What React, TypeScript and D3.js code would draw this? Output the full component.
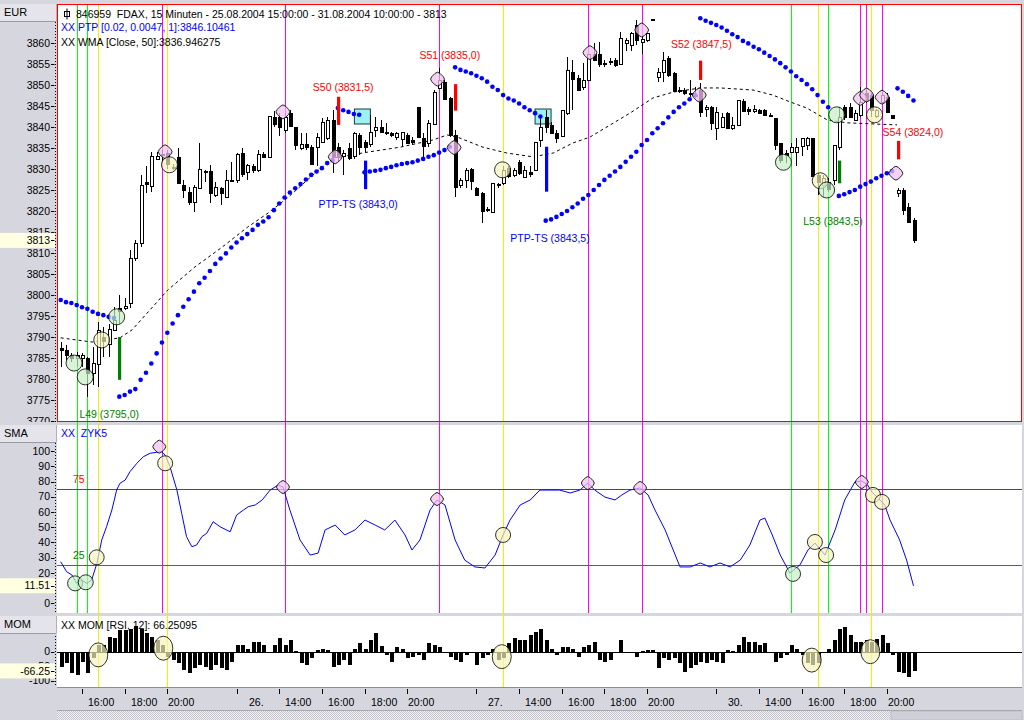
import React from "react";
import * as d3 from "d3";

// ---------- DATA ----------
// OHLC per 15-min bar: [open, high, low, close]
const ohlc: number[][] = [
  [3787.5, 3788.9, 3782.9, 3787.0], [3786.9, 3788.1, 3784.5, 3785.7], [3785.7, 3786.1, 3784.1, 3784.9], [3784.9, 3786.5, 3782.9, 3785.7],
  [3784.9, 3786.1, 3782.9, 3785.7], [3784.9, 3785.3, 3775.8, 3781.3], [3781.3, 3787.7, 3778.6, 3783.7], [3783.7, 3793.6, 3778.2, 3791.7],
  [3790.1, 3792.5, 3785.3, 3789.1], [3788.5, 3793.2, 3785.3, 3792.0], [3791.7, 3797.2, 3791.7, 3794.0], [3796.8, 3800.0, 3793.2, 3796.0],
  [3797.0, 3799.2, 3796.4, 3797.5], [3798.0, 3810.7, 3796.8, 3808.7], [3808.7, 3813.1, 3808.0, 3812.3], [3812.3, 3828.6, 3811.5, 3826.2],
  [3826.9, 3830.6, 3824.2, 3826.5], [3825.8, 3834.1, 3824.6, 3833.0], [3832.5, 3834.1, 3832.1, 3833.1], [3833.6, 3834.5, 3831.7, 3833.4],
  [3833.7, 3834.5, 3830.1, 3831.0], [3830.5, 3831.3, 3829.8, 3830.4], [3832.9, 3834.9, 3826.6, 3826.6], [3826.2, 3827.4, 3823.0, 3825.0],
  [3824.6, 3825.8, 3821.4, 3822.2], [3822.2, 3826.2, 3819.8, 3825.8], [3825.4, 3836.1, 3825.4, 3829.9], [3829.4, 3829.8, 3827.0, 3829.5],
  [3829.5, 3831.0, 3821.8, 3824.2], [3823.8, 3827.0, 3823.4, 3825.8], [3825.4, 3825.8, 3821.4, 3824.2], [3823.4, 3829.8, 3823.4, 3827.4],
  [3827.5, 3831.7, 3827.0, 3827.4], [3827.2, 3833.7, 3826.6, 3833.5], [3833.7, 3834.9, 3828.2, 3828.6], [3829.4, 3831.3, 3827.4, 3831.0],
  [3830.7, 3831.3, 3829.0, 3829.8], [3829.8, 3834.5, 3829.4, 3833.5], [3833.5, 3834.0, 3832.9, 3832.9], [3832.9, 3842.6, 3832.9, 3842.6],
  [3842.5, 3843.7, 3840.1, 3840.9], [3842.5, 3843.3, 3837.9, 3840.1], [3839.4, 3843.4, 3838.5, 3842.5], [3843.3, 3844.1, 3840.1, 3840.2],
  [3839.9, 3840.1, 3834.5, 3835.7], [3834.9, 3838.5, 3834.5, 3835.9], [3836.0, 3838.5, 3834.5, 3835.3], [3835.2, 3835.7, 3831.0, 3831.2],
  [3835.3, 3838.5, 3830.6, 3837.7], [3836.5, 3842.1, 3836.1, 3841.3], [3837.3, 3842.5, 3836.9, 3841.7], [3841.7, 3844.0, 3829.0, 3833.0],
  [3835.3, 3836.1, 3831.7, 3833.0], [3833.0, 3834.5, 3828.6, 3833.8], [3834.9, 3836.1, 3832.1, 3832.5], [3833.0, 3838.9, 3832.5, 3838.5],
  [3838.1, 3838.5, 3833.3, 3835.3], [3836.5, 3836.9, 3834.1, 3835.3], [3836.1, 3842.9, 3835.3, 3838.9], [3839.4, 3842.5, 3837.7, 3840.1],
  [3840.1, 3841.7, 3838.5, 3838.9], [3838.9, 3840.9, 3838.1, 3838.6], [3838.5, 3838.9, 3837.7, 3838.1], [3837.5, 3838.9, 3836.9, 3838.5],
  [3837.3, 3838.9, 3835.3, 3838.9], [3838.1, 3838.5, 3836.1, 3836.1], [3837.0, 3837.7, 3835.7, 3836.5], [3844.8, 3844.8, 3837.7, 3837.7],
  [3837.3, 3838.5, 3832.5, 3835.3], [3836.1, 3841.7, 3835.3, 3840.9], [3840.9, 3848.8, 3840.5, 3848.4], [3849.2, 3854.0, 3849.2, 3851.2],
  [3850.8, 3851.2, 3846.4, 3846.8], [3846.8, 3847.2, 3837.7, 3838.1], [3838.1, 3839.3, 3823.4, 3825.8], [3826.2, 3827.8, 3825.4, 3827.4],
  [3827.4, 3830.2, 3825.4, 3829.8], [3829.9, 3830.2, 3825.0, 3827.0], [3825.4, 3825.8, 3823.8, 3823.8], [3824.2, 3824.6, 3817.1, 3819.8],
  [3820.4, 3821.0, 3819.8, 3820.4], [3819.8, 3826.6, 3819.8, 3826.6], [3826.4, 3826.6, 3825.4, 3826.4], [3826.6, 3830.6, 3826.2, 3829.8],
  [3830.2, 3830.6, 3827.8, 3828.2], [3828.6, 3830.2, 3828.2, 3829.8], [3831.7, 3832.1, 3828.6, 3829.0], [3828.2, 3830.6, 3827.8, 3829.8],
  [3829.4, 3830.6, 3828.2, 3829.0], [3829.8, 3836.5, 3829.8, 3836.5], [3836.9, 3842.5, 3835.3, 3840.1], [3842.5, 3844.0, 3838.5, 3840.1],
  [3840.5, 3841.3, 3838.5, 3838.5], [3838.5, 3839.3, 3836.1, 3837.3], [3837.7, 3844.0, 3837.7, 3844.0], [3843.3, 3856.7, 3842.9, 3853.6],
  [3853.2, 3856.0, 3844.0, 3851.6], [3851.6, 3852.4, 3848.8, 3848.8], [3849.6, 3855.2, 3848.8, 3851.2], [3851.2, 3857.5, 3851.2, 3857.5],
  [3857.5, 3859.9, 3855.6, 3856.0], [3857.5, 3860.3, 3854.4, 3855.2], [3855.2, 3856.0, 3854.4, 3855.0], [3855.4, 3856.4, 3854.8, 3855.6],
  [3856.0, 3856.4, 3854.4, 3854.8], [3854.8, 3862.7, 3854.8, 3861.1], [3859.9, 3861.1, 3858.0, 3860.7], [3859.5, 3862.7, 3858.0, 3862.3],
  [3864.3, 3865.5, 3859.5, 3860.7], [3860.3, 3861.5, 3857.5, 3860.9], [3860.7, 3862.3, 3860.3, 3862.3], [3865.5, 3865.8, 3865.3, 3865.6],
  [3852.0, 3854.0, 3850.8, 3853.2], [3853.2, 3857.9, 3850.8, 3856.0], [3856.4, 3856.8, 3852.0, 3852.4], [3852.8, 3853.2, 3848.4, 3848.4],
  [3848.6, 3849.6, 3848.2, 3848.9], [3848.8, 3849.2, 3847.6, 3848.2], [3848.0, 3851.2, 3847.2, 3848.1], [3847.7, 3849.6, 3847.0, 3847.4],
  [3848.8, 3850.4, 3842.5, 3843.6], [3844.4, 3845.2, 3842.5, 3844.8], [3844.8, 3845.0, 3839.3, 3840.9], [3839.7, 3844.8, 3836.9, 3843.6],
  [3840.1, 3843.3, 3839.7, 3842.5], [3843.3, 3843.6, 3839.7, 3839.7], [3839.7, 3842.5, 3839.3, 3840.5], [3840.5, 3846.4, 3840.5, 3846.4],
  [3846.3, 3846.6, 3844.0, 3844.0], [3844.2, 3844.8, 3842.9, 3843.8], [3843.8, 3845.2, 3843.3, 3844.2], [3844.0, 3844.4, 3843.0, 3843.3],
  [3844.0, 3844.4, 3842.7, 3842.9], [3842.9, 3843.3, 3842.3, 3842.7], [3842.1, 3842.1, 3834.5, 3835.7], [3836.1, 3836.1, 3831.4, 3832.1],
  [3833.7, 3834.5, 3831.4, 3833.3], [3834.1, 3836.1, 3833.7, 3835.3], [3834.1, 3837.3, 3830.6, 3835.3], [3835.3, 3837.3, 3833.0, 3837.3],
  [3835.7, 3837.7, 3834.5, 3837.3], [3837.3, 3837.3, 3828.2, 3828.2], [3828.6, 3829.0, 3823.8, 3827.0], [3826.2, 3828.6, 3823.4, 3827.8],
  [3827.0, 3827.8, 3824.6, 3825.4], [3827.4, 3835.7, 3826.2, 3835.7], [3835.3, 3844.8, 3834.5, 3842.5], [3844.8, 3845.2, 3841.7, 3842.5],
  [3844.8, 3845.6, 3842.1, 3842.5], [3841.7, 3844.0, 3841.5, 3843.3], [3842.9, 3849.6, 3842.5, 3846.0], [3848.0, 3848.8, 3845.6, 3846.4],
  [3847.6, 3848.0, 3842.5, 3844.0], [3842.5, 3844.4, 3842.1, 3844.0], [3846.0, 3848.4, 3845.6, 3847.6], [3847.2, 3848.0, 3843.3, 3843.6],
  [3842.9, 3842.9, 3842.1, 3842.1], [3824.2, 3825.4, 3823.4, 3825.0], [3825.0, 3825.4, 3819.0, 3820.2], [3821.0, 3821.8, 3817.1, 3817.5],
  [3817.9, 3818.3, 3812.3, 3813.1],
];

// PTP trailing-stop dots (start bar number, values)
const ptpA = [3798.8, 3798.3, 3798.1, 3797.6, 3797.1, 3796.7, 3796.0, 3795.5, 3795.2, 3794.8, 3794.5];
const ptpB = [3775.8, 3776.2, 3777.0, 3777.6, 3779.8, 3781.5, 3783.7, 3786.1, 3788.7, 3791.0, 3793.2, 3795.2, 3797.2, 3799.0,
  3800.8, 3802.8, 3804.1, 3805.7, 3807.4, 3808.7, 3809.9, 3811.3, 3812.5, 3813.5, 3814.5, 3815.5, 3816.7, 3817.5, 3818.5,
  3820.2, 3821.8, 3823.2, 3824.4, 3825.4, 3826.4, 3827.5, 3828.6, 3829.4, 3830.2, 3831.4, 3832.1];
const ptpC = [3844.5, 3844.0, 3843.6, 3843.1, 3842.9];
const ptpD = [3829.2, 3829.4, 3829.6, 3829.8, 3830.2, 3830.5, 3830.9, 3831.2, 3831.4, 3831.6, 3832.0, 3832.4, 3832.9, 3833.3, 3833.9, 3834.5, 3835.3];
const ptpE = [3854.2, 3853.6, 3853.2, 3852.8, 3852.2, 3851.6, 3850.8, 3849.6, 3848.8, 3847.6, 3846.8, 3846.3, 3845.6, 3844.7, 3844.0, 3843.3, 3842.5];
const ptpF = [3817.7, 3818.0, 3818.6, 3819.3, 3820.0, 3820.9, 3821.8, 3822.9, 3823.8, 3825.0, 3826.2, 3827.4, 3828.4, 3829.4, 3830.5,
  3831.7, 3832.9, 3834.1, 3835.7, 3836.9, 3838.5, 3839.7, 3840.9, 3842.3, 3843.6, 3844.7, 3845.6, 3846.6, 3847.6];
const ptpG = [3865.9, 3865.3, 3864.8, 3864.3, 3863.7, 3862.9, 3862.1, 3861.4, 3860.5, 3859.9, 3859.1, 3858.5, 3857.7, 3856.9, 3856.1,
  3855.2, 3854.2, 3853.2, 3852.1, 3851.2, 3850.2, 3849.0, 3847.6, 3846.0, 3844.7];
const ptpH = [3823.6, 3824.0, 3824.5, 3825.0, 3825.8, 3826.4, 3827.0, 3827.8, 3828.4, 3829.0, 3829.5];
const ptpI = [3849.2, 3848.4, 3847.4, 3846.3];
const ptpStarts = [1, 12, 53, 58, 75, 92, 121, 147, 158];
const ptpSegs = [ptpA, ptpB, ptpC, ptpD, ptpE, ptpF, ptpG, ptpH, ptpI];

// WMA (Close, 50) read points
const wmaIdx = [1, 6.9, 12.1, 14.4, 21.1, 26.2, 31.3, 36.1, 39.9, 43.7, 48.7, 52.1, 58.5, 64.7, 70.8, 73.5, 75.4, 80.2, 84.7, 89.6,
  93.4, 97.1, 100.3, 107.8, 112.1, 115.9, 121, 124.7, 130.9, 134.6, 137.8, 141, 144.8, 148.5, 157.9];
const wmaVal = [3789.8, 3788.8, 3789.8, 3791.7, 3801.2, 3806.7, 3811.4, 3816.2, 3819.5, 3823.3, 3829.0, 3832.6, 3834.0, 3835.2, 3836.9,
  3838.1, 3837.6, 3835.2, 3833.8, 3832.9, 3833.8, 3836.2, 3837.6, 3843.3, 3846.9, 3848.3, 3849.3, 3849.3, 3848.8, 3847.6, 3846.0,
  3844.5, 3841.7, 3841.0, 3840.5];

// ZYK5 oscillator read points
const smaIdx = [1, 2.1, 3.1, 4.0, 4.9, 5.9, 6.8, 7.8, 8.7, 9.6, 10.6, 11.5, 12.1, 13.1, 14.0, 15.3, 16.5, 17.8, 19.0, 19.9,
  20.6, 21.5, 22.8, 23.7, 24.6, 25.6, 26.5, 27.5, 28.4, 29.6, 30.9, 32.8, 34.0, 35.3, 36.2, 37.5, 38.8, 40.3, 41.8, 42.7,
  44.0, 45.9, 47.8, 49.3, 50.6, 52.5, 54.3, 56.2, 58.1, 60.0, 61.8, 63.7, 65.6, 66.9, 68.4, 70.3, 71.6, 73.1, 75.0, 76.8,
  78.7, 80.6, 82.5, 84.0, 85.3, 87.2, 89.1, 90.9, 92.8, 94.6, 96.6, 98.4, 99.9, 101.2, 103.1, 105.0, 106.3, 107.8, 109.7, 111.2,
  112.5, 114.4, 116.3, 117.2, 119.1, 121.0, 122.8, 124.7, 126.6, 128.5, 130.3, 132.2, 133.1, 134.5, 136.0, 137.8, 139.7, 141.2, 142.5, 144.4,
  146.3, 148.1, 150.0, 151.3, 152.4, 153.2, 154.7, 155.6, 156.6, 158.4, 159.7, 161];
const smaVal = [27.3, 20.8, 18.6, 13.1, 15.3, 13.1, 15.3, 26.3, 41.6, 50.3, 61.3, 74.4, 78.8, 81.0, 86.5, 92.0, 96.3, 98.6, 99.2, 99.6,
  97.4, 89.8, 74.4, 59.1, 43.8, 37.2, 38.3, 43.8, 46.0, 53.6, 50.3, 47.0, 58.0, 61.3, 63.5, 64.6, 67.9, 74.4, 77.7, 76.4,
  61.3, 41.6, 31.7, 33.0, 48.2, 51.4, 44.9, 48.2, 54.7, 51.4, 48.2, 54.7, 44.9, 35.0, 41.6, 61.3, 67.9, 64.6, 41.6, 28.4,
  23.9, 23.2, 31.7, 44.9, 54.7, 64.6, 67.9, 74.4, 74.4, 74.4, 72.5, 74.4, 79.0, 74.4, 69.8, 67.9, 71.2, 74.4, 75.8, 71.2,
  61.3, 48.2, 31.7, 23.9, 23.9, 26.5, 23.9, 26.5, 23.9, 28.4, 38.3, 54.7, 56.0, 44.9, 31.7, 19.9, 25.2, 35.0, 39.6, 31.7,
  48.2, 67.9, 79.7, 80.4, 77.7, 73.1, 67.9, 64.6, 54.7, 41.6, 28.4, 11.5];

// MOM histogram, one value per bar
const momVals = [
  -52, -40, -75, -80, -34, -75, -23, 23, 23, 52, 46, 75, 75, 80, 88, 80, 63, 52, 40, 23,
  -17, -29, -40, -63, -75, -57, -46, -52, -63, -46, -57, -63, -34, 23, 23, 11, 34, 34, 23, -6,
  23, 46, 23, 40, 2, -40, -46, -20, 6, 11, 5, -52, -46, -29, -46, 11, 29, 11, 40, 63,
  20, -11, -34, 17, 11, -23, -17, -11, -29, 29, 23, 17, -6, -17, -29, -34, -11, -3, -46, -20,
  -11, 11, -29, -23, 30, 46, 40, 40, 57, 69, 80, 40, 10, -11, 17, 17, 11, -17, 17, 23,
  34, -29, -34, -29, -5, 40, -3, -6, -17, 2, 5, 6, -57, -23, -29, -23, -40, -69, -57, -46,
  -34, -40, -29, -34, -40, 6, 3, 23, 52, 34, 34, 23, 29, -3, -34, -23, -11, 23, 11, -10,
  -40, -45, -40, -6, 10, 40, 80, 86, 57, 34, 34, 40, 34, 45, 57, 29, -11, -69, -75, -86, -66,
];

// Axis ticks (labels fully covered by the current-value boxes are not drawn)
const priceTicks = [3770, 3775, 3780, 3785, 3790, 3795, 3800, 3805, 3810, 3815, 3820, 3825, 3830, 3835, 3840, 3845, 3850, 3855, 3860];
const smaTicks = [0, 20, 30, 40, 50, 60, 70, 80, 90, 100];
const momTicks = [0, -50, -100];
const timeTickIdx = [5, 13, 21, 34, 42, 50, 58, 66, 79, 87, 95, 103, 111, 124, 132, 140, 148, 156];
const timeTickLabels = ["16:00", "18:00", "20:00", "26.", "14:00", "16:00", "18:00", "20:00", "27.", "14:00", "16:00", "18:00", "20:00", "30.", "14:00", "16:00", "18:00", "20:00"];

// Event vertical lines: bar number, type (g = green, y = yellow, m = magenta)
const vLineIdx = [4, 6, 8, 20, 21, 43, 72, 84, 100, 110, 138, 143, 145, 151, 152, 153, 155];
const vLineType = ["g", "g", "y", "m", "y", "m", "m", "y", "m", "m", "g", "y", "g", "m", "m", "y", "m"];

// Markers: [type, bar, value]
const priceMarkers: [string, number, number][] = [
  ["g", 3.5, 3783.8], ["g", 5.6, 3780.5], ["y", 8.7, 3789.3], ["g", 11.5, 3794.8], ["p", 20.6, 3834.1], ["y", 21.4, 3831.0],
  ["p", 42.7, 3843.6], ["p", 52.5, 3832.9], ["p", 71.7, 3851.4], ["p", 74.8, 3835.1], ["y", 83.9, 3829.8], ["p", 100.3, 3857.7],
  ["p", 110, 3863.1], ["p", 120.8, 3847.6], ["g", 136.6, 3831.6], ["y", 143.5, 3827.2], ["g", 144.7, 3825.0], ["g", 146.6, 3842.9],
  ["p", 151, 3846.8], ["p", 152.2, 3847.6], ["y", 153.7, 3842.9], ["p", 155.1, 3847.1], ["p", 157.7, 3829.0],
];
const smaMarkers: [string, number, number][] = [
  ["g", 3.7, 13.1], ["g", 5.7, 13.8], ["y", 7.75, 30.2], ["p", 19.5, 102.9], ["y", 20.6, 92.0], ["p", 42.7, 76.4],
  ["p", 71.6, 68.5], ["y", 84.0, 44.9], ["p", 99.9, 79.0], ["p", 109.7, 75.8], ["g", 138.4, 19.3], ["y", 142.5, 40.3],
  ["y", 144.6, 31.7], ["p", 151.3, 79.7], ["y", 153.4, 71.2], ["y", 155.1, 66.6],
];
const momMarkers: [number, number][] = [[8.05, -11], [20.25, 12], [83.75, -17], [141.9, -29], [152.9, 0]];

// Trade signals
const signals = [
  { idx: 12, hi: 3790.0, lo: 3779.8, kind: "L", text: "L49 (3795,0)", li: 10.1, lp: 3771.7 },
  { idx: 53, hi: 3847.2, lo: 3840.5, kind: "S", text: "S50 (3831,5)", li: 54, lp: 3849.5 },
  { idx: 58, hi: 3832.0, lo: 3825.2, kind: "T", text: "PTP-TS (3843,0)", li: 56.8, lp: 3821.7 },
  { idx: 75, hi: 3850.2, lo: 3843.9, kind: "S", text: "S51 (3835,0)", li: 74.0, lp: 3857.1 },
  { idx: 92, hi: 3835.3, lo: 3824.6, kind: "T", text: "PTP-TS (3843,5)", li: 92.8, lp: 3813.6 },
  { idx: 121, hi: 3855.8, lo: 3851.2, kind: "S", text: "S52 (3847,5)", li: 121.2, lp: 3859.8 },
  { idx: 147, hi: 3832.0, lo: 3826.6, kind: "L", text: "L53 (3843,5)", li: 145.9, lp: 3817.6 },
  { idx: 158, hi: 3836.7, lo: 3832.3, kind: "S", text: "S54 (3824,0)", li: 160.9, lp: 3838.8 },
];
const stopBoxIdx = [57.6, 91.5];
const stopBoxPrice = [3842.5, 3842.5];

const lastPrice = 3813;
const lastSma = 11.51;
const lastMom = -66.25;

// ---------- STYLE ----------
const FONT = "'Liberation Sans', Arial, Helvetica, sans-serif";
const GRAY = "#D6D6DE";
const LINE_COL: Record<string, string> = { g: "#00FF00", y: "#F0F000", m: "#FF00FF" };
const MARK_FILL: Record<string, string> = { g: "#C6F0C6", y: "#F6F3BC", p: "#F2C2EE" };
const SIG_COL: Record<string, string> = { L: "#008000", S: "#FF0000", T: "#0000FF" };

function Marker({ t, cx, cy, r }: { t: string; cx: number; cy: number; r: number }) {
  if (t === "p") {
    const s = r * 1.45;
    return (
      <rect x={-s / 2} y={-s / 2} width={s} height={s} rx={s * 0.3}
        transform={`translate(${cx},${cy}) rotate(45)`}
        fill={MARK_FILL.p} fillOpacity={0.75} stroke="#000" strokeWidth={0.8} />
    );
  }
  return <circle cx={cx} cy={cy} r={r} fill={MARK_FILL[t]} fillOpacity={0.7} stroke="#000" strokeWidth={0.8} />;
}

export default function App() {
  const N = ohlc.length;
  const x = d3.scaleLinear().domain([1, N]).range([60.7, 913.5]);
  const yP = d3.scaleLinear().domain([3775, 3860]).range([400, 43]);
  const yS = d3.scaleLinear().domain([0, 100]).range([603.3, 451.1]);
  const yM = d3.scaleLinear().domain([-100, 0]).range([680.7, 651.7]);
  const cx = (i: number) => Math.round(x(i));

  const wmaPath = d3.line<number>().x((_, i) => x(wmaIdx[i])).y((d) => yP(d))(wmaVal) || "";
  const smaPath = d3.line<number>().x((_, i) => x(smaIdx[i])).y((d) => yS(d))(smaVal) || "";

  const PL = 57, PR = 1022;
  const axisLabel = (y: number, txt: string, key: string) => (
    <g key={key}>
      <text x={50} y={y} dy="0.35em" textAnchor="end" fill="#000">{txt}</text>
      <line x1={51} x2={54.5} y1={Math.round(y) + 0.5} y2={Math.round(y) + 0.5} stroke="#000" />
    </g>
  );
  const valueBox = (y: number, txt: string) => (
    <g>
      <rect x={0} y={y - 7.5} width={55} height={15} fill="#FFFFE1" />
      <text x={50} y={y} dy="0.35em" textAnchor="end" fill="#000">{txt}</text>
      <line x1={51} x2={54.5} y1={Math.round(y) + 0.5} y2={Math.round(y) + 0.5} stroke="#000" />
    </g>
  );
  const headerBox = (y: number, h: number, txt: string) => (
    <g>
      <rect x={0} y={y} width={56} height={h} fill="#E4E4EA" />
      <line x1={0} x2={56} y1={y + h + 0.5} y2={y + h + 0.5} stroke="#9A9AA4" />
      <line x1={56.5} x2={56.5} y1={y} y2={y + h} stroke="#B0B0B8" />
      <text x={4} y={y + h / 2} dy="0.35em" fill="#000" fontSize={11}>{txt}</text>
    </g>
  );

  return (
    <svg width={1024} height={720} viewBox="0 0 1024 720"
      style={{ position: "fixed", left: 0, top: 0, display: "block" }}
      fontFamily={FONT} fontSize={10.5}>
      <defs>
        <clipPath id="cMain"><rect x={58} y={5} width={963} height={416} /></clipPath>
        <clipPath id="cSma"><rect x={57} y={425} width={965} height={188} /></clipPath>
        <clipPath id="cMom"><rect x={57} y={616} width={965} height={71} /></clipPath>
        <clipPath id="cAxMain"><rect x={0} y={4} width={57} height={418} /></clipPath>
        <pattern id="hatch" width={2} height={2} patternUnits="userSpaceOnUse">
          <rect width={2} height={2} fill="#F2F2F4" />
          <rect width={1} height={1} fill="#C4C4CC" />
          <rect x={1} y={1} width={1} height={1} fill="#C4C4CC" />
        </pattern>
      </defs>

      {/* background and panels */}
      <rect width={1024} height={720} fill={GRAY} />
      <rect x={PL} y={4} width={PR - PL} height={418} fill="#fff" />
      <rect x={PL} y={425} width={PR - PL} height={188} fill="#fff" />
      <rect x={PL} y={616} width={PR - PL} height={71} fill="#fff" />

      {/* event vertical lines */}
      <g shapeRendering="crispEdges">
        {vLineIdx.map((b, k) => (
          <line key={k} x1={cx(b) + 0.5} x2={cx(b) + 0.5} y1={4} y2={vLineType[k] === "y" ? 687 : 613}
            stroke={LINE_COL[vLineType[k]]} strokeWidth={1} />
        ))}
      </g>

      {/* ---------- MAIN PANEL ---------- */}
      <g clipPath="url(#cMain)">
        <path d={wmaPath} fill="none" stroke="#000" strokeWidth={1} strokeDasharray="3,3" />
        {stopBoxIdx.map((b, k) => (
          <rect key={k} x={x(b) - 8} y={yP(stopBoxPrice[k]) - 7.5} width={16} height={15}
            fill="#9CF2F2" stroke="#1A3A3A" strokeWidth={1} />
        ))}
        <g shapeRendering="crispEdges">
          {ohlc.map((d, i) => {
            const [o, h, l, c] = d;
            const xc = cx(i + 1);
            const top = yP(Math.max(o, c));
            const bot = yP(Math.min(o, c));
            const up = c >= o;
            return (
              <g key={i}>
                <line x1={xc + 0.5} x2={xc + 0.5} y1={yP(h)} y2={yP(l)} stroke="#000" />
                <rect x={xc - 1} y={Math.round(top) + 0.5} width={3} height={Math.max(1, Math.round(bot - top))}
                  fill={up ? "#fff" : "#000"} stroke="#000" strokeWidth={1} />
              </g>
            );
          })}
        </g>
        {ptpSegs.map((seg, s) =>
          seg.map((v, k) => <circle key={`${s}-${k}`} cx={x(ptpStarts[s] + k)} cy={yP(v)} r={2.3} fill="#0000FF" />)
        )}
        {signals.map((sg, k) => (
          <g key={k}>
            <rect x={cx(sg.idx) - 1} y={yP(sg.hi)} width={3.2} height={yP(sg.lo) - yP(sg.hi)} fill={SIG_COL[sg.kind]} />
          </g>
        ))}
        {priceMarkers.map(([t, b, v], k) => <Marker key={k} t={t} cx={x(b)} cy={yP(v)} r={8} />)}
        {signals.map((sg, k) => (
          <text key={k} x={x(sg.li)} y={yP(sg.lp)} dy="0.35em" textAnchor="middle" fill={SIG_COL[sg.kind]}>{sg.text}</text>
        ))}
        {/* header */}
        <rect x={64.5} y={11.5} width={5} height={5} fill="none" stroke="#000" />
        <line x1={67} x2={67} y1={8.5} y2={19.5} stroke="#000" />
        <text x={76} y={18} fill="#000" style={{ whiteSpace: "pre" }}>
          {"846959  FDAX, 15 Minuten - 25.08.2004 15:00:00 - 31.08.2004 10:00:00 - 3813"}
        </text>
        <text x={61} y={30.5} fill="#0000FF">XX PTP [0.02, 0.0047, 1]:3846.10461</text>
        <text x={61} y={46} fill="#000">XX WMA [Close, 50]:3836.946275</text>
      </g>
      <rect x={PL + 0.5} y={4.5} width={PR - PL - 1} height={417} fill="none" stroke="#FF0000" />

      {/* ---------- SMA PANEL ---------- */}
      <g clipPath="url(#cSma)">
        <line x1={PL} x2={PR} y1={Math.round(yS(75)) + 0.5} y2={Math.round(yS(75)) + 0.5} stroke="#FF0000" />
        <line x1={PL} x2={PR} y1={Math.round(yS(25)) + 0.5} y2={Math.round(yS(25)) + 0.5} stroke="#00A000" />
        <text x={73} y={yS(75) - 6} fill="#FF0000">75</text>
        <text x={73} y={yS(25) - 6} fill="#008000">25</text>
        <path d={smaPath} fill="none" stroke="#0000FF" strokeWidth={1} />
        {smaMarkers.map(([t, b, v], k) => <Marker key={k} t={t} cx={x(b)} cy={yS(v)} r={7.5} />)}
        <text x={61} y={437} fill="#0000FF" style={{ whiteSpace: "pre" }}>{"XX  ZYK5"}</text>
      </g>

      {/* ---------- MOM PANEL ---------- */}
      <g clipPath="url(#cMom)">
        <g shapeRendering="crispEdges">
          {momVals.map((v, i) => {
            const y0 = yM(0), y1 = yM(v);
            return <rect key={i} x={cx(i + 1) - 1.5} y={Math.min(y0, y1)} width={4} height={Math.max(1, Math.abs(y1 - y0))} fill="#000" />;
          })}
          <line x1={PL} x2={PR} y1={Math.round(yM(0)) + 0.5} y2={Math.round(yM(0)) + 0.5} stroke="#000" />
        </g>
        {momMarkers.map(([b, v], k) => (
          <ellipse key={k} cx={x(b)} cy={yM(v)} rx={9.5} ry={12} fill="#F6F3BC" fillOpacity={0.7} stroke="#000" strokeWidth={0.8} />
        ))}
        <text x={61} y={629} fill="#000">XX MOM [RSI, 12]: 66.25095</text>
      </g>

      {/* ---------- LEFT AXES ---------- */}
      <g clipPath="url(#cAxMain)">
        {priceTicks.map((p) => axisLabel(yP(p), String(p), `p${p}`))}
      </g>
      {smaTicks.map((v) => axisLabel(yS(v), String(v), `s${v}`))}
      {momTicks.map((v) => axisLabel(yM(v), String(v), `m${v}`))}
      <line x1={55.5} x2={55.5} y1={22} y2={422} stroke="#000" strokeDasharray="1,2" />
      <line x1={55.5} x2={55.5} y1={443} y2={612} stroke="#000" strokeDasharray="1,2" />
      <line x1={55.5} x2={55.5} y1={633} y2={686} stroke="#000" strokeDasharray="1,2" />
      {valueBox(yP(lastPrice), String(lastPrice))}
      {valueBox(yS(lastSma), lastSma.toFixed(2))}
      {valueBox(yM(lastMom), lastMom.toFixed(2))}
      {headerBox(4, 17, "EUR")}
      {headerBox(425, 17, "SMA")}
      {headerBox(616, 17, "MOM")}

      {/* ---------- TIME AXIS ---------- */}
      <line x1={PL} x2={PR} y1={687.5} y2={687.5} stroke="#8C8C94" />
      <g shapeRendering="crispEdges">
        {timeTickIdx.map((b, k) => (
          <line key={k} x1={cx(b) + 0.5} x2={cx(b) + 0.5} y1={689} y2={694} stroke="#000" />
        ))}
      </g>
      {timeTickIdx.map((b, k) => {
        const lab = timeTickLabels[k];
        const off = lab.endsWith(".") ? 12 : lab === "20:00" ? 1 : 6;
        return (
          <text key={k} x={cx(b) + off} y={706} fill="#000" fontSize={10.5}>{lab}</text>
        );
      })}
      {/* scrollbar */}
      <rect x={PL} y={711} width={891 - PL} height={9} fill="url(#hatch)" />
      <line x1={PL} x2={PR} y1={710.5} y2={710.5} stroke="#A8A8B0" />
      <rect x={891} y={711} width={PR - 891} height={9} fill="#CFCFD7" stroke="#A8A8B0" strokeWidth={0.5} />
    </svg>
  );
}
